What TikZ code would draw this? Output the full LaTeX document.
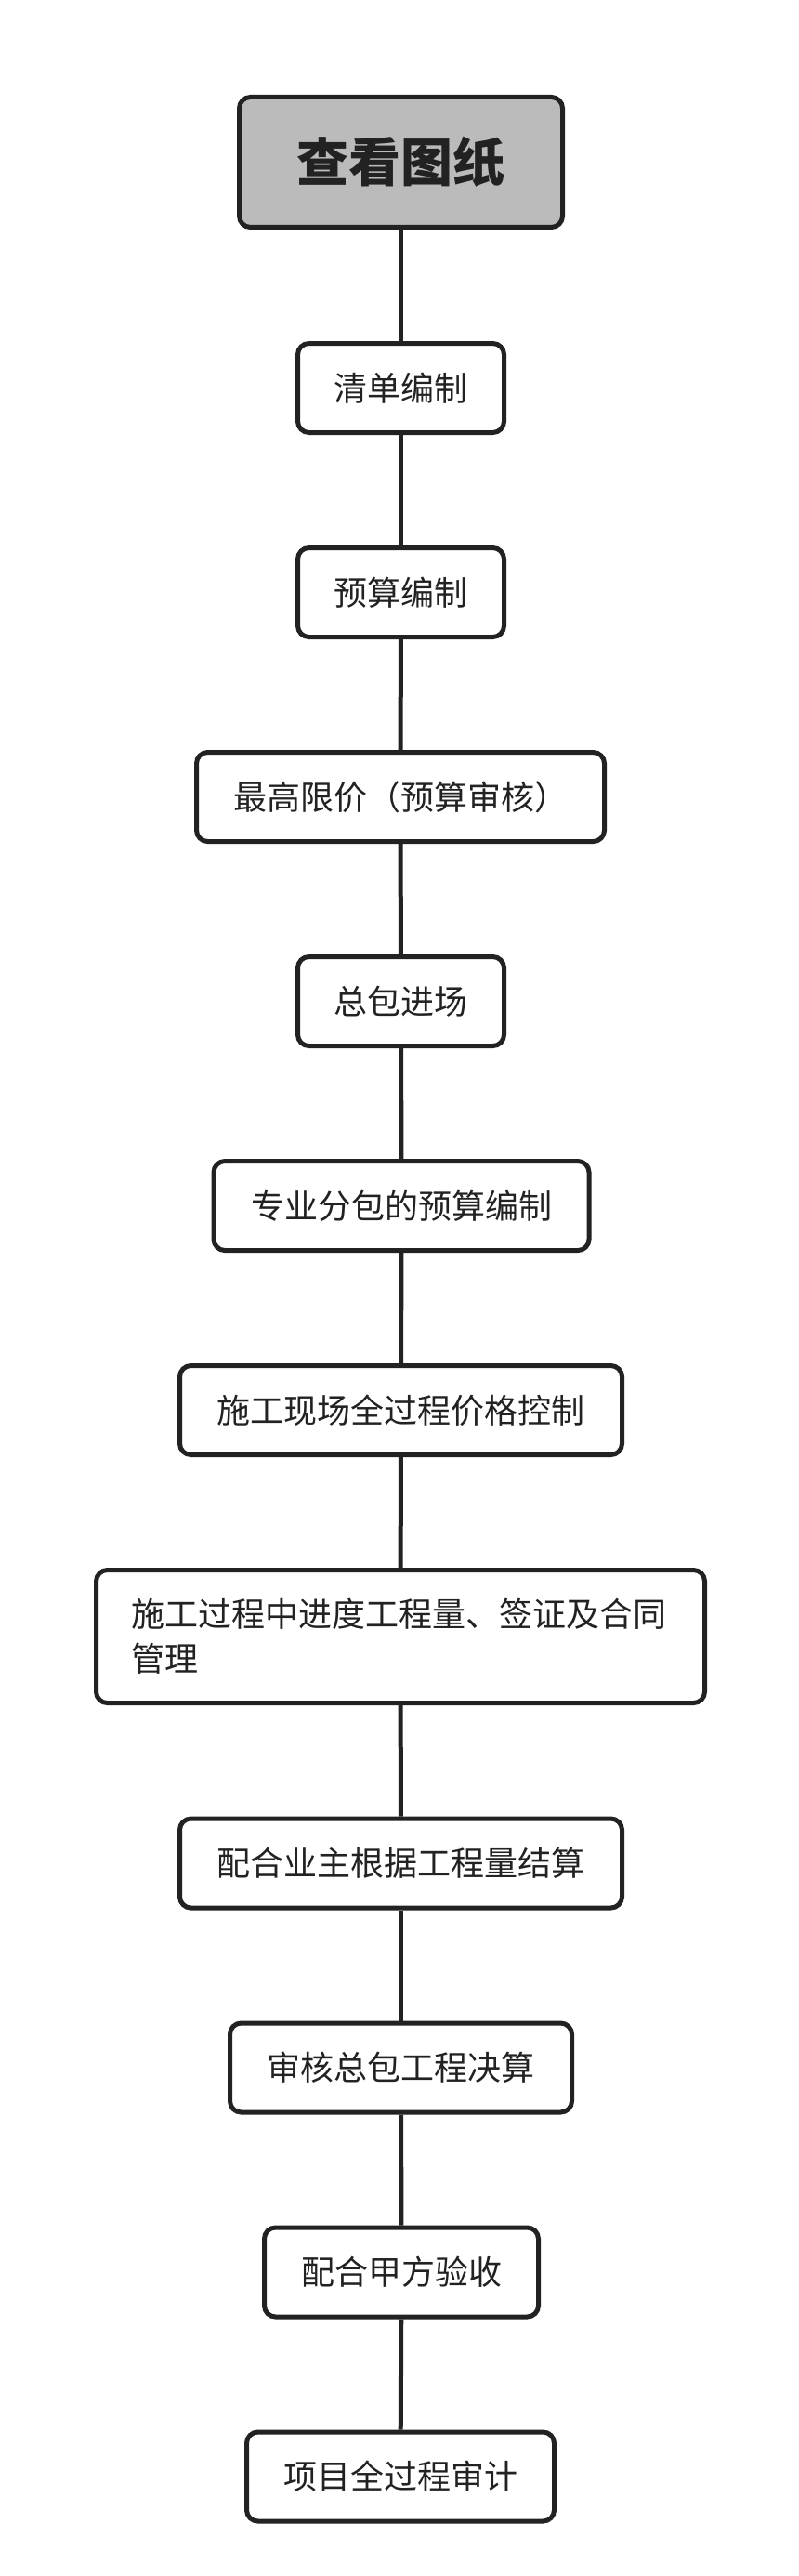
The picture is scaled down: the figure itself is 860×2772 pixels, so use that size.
\documentclass[tikz,border=0pt]{standalone}
\usepackage{fontspec}
\setmainfont{Noto Sans CJK SC}
\usepackage{tikz}
\usetikzlibrary{arrows.meta,positioning}
\usepackage{xcolor}
\definecolor{inkgray}{HTML}{222222}
\definecolor{headgray}{HTML}{BBBBBB}

\begin{document}
\begin{tikzpicture}[
  x=0.5pt,y=-0.5pt,
  stage/.style={draw=inkgray,line width=2.5pt,rectangle,rounded corners=6pt,
                minimum height=48pt,fill=white,text=inkgray,
                font=\fontsize{18pt}{24pt}\selectfont,align=center},
  head/.style={stage,fill=headgray,minimum width=174pt,minimum height=70pt,
               font=\fontsize{28pt}{34pt}\selectfont\bfseries},
  link/.style={draw=inkgray,line width=2.5pt}
]
\useasboundingbox (0,0) rectangle (860,2772);

% Start
\node[head] (s1) at (431.5,174.5) {查看图纸};

% Steps
\node[stage,minimum width=111pt] (s2) at (431.5,417.5) {清单编制};
\node[stage,minimum width=111pt] (s3) at (431.5,637.5) {预算编制};
\node[stage,minimum width=219.5pt] (s4) at (431,857.5) {最高限价（预算审核）};
\node[stage,minimum width=111pt] (s5) at (431.5,1077.5) {总包进场};
\node[stage,minimum width=202pt] (s6) at (432,1297.5) {专业分包的预算编制};
\node[stage,minimum width=238pt] (s7) at (431.5,1517.5) {施工现场全过程价格控制};
\node[stage,minimum height=71.5pt,text width=290pt,inner xsep=18.75pt,align=left]
  (s8) at (431,1761) {施工过程中进度工程量、签证及合同\\管理};
\node[stage,minimum width=238pt] (s9) at (431.5,2005) {配合业主根据工程量结算};
\node[stage,minimum width=184pt] (s10) at (431.5,2225) {审核总包工程决算};
\node[stage,minimum width=147.5pt] (s11) at (432,2445) {配合甲方验收};
\node[stage,minimum width=165.5pt] (s12) at (431,2665) {项目全过程审计};

% Connectors
\draw[link] (s1) -- (s2);
\draw[link] (s2) -- (s3);
\draw[link] (s3) -- (s4);
\draw[link] (s4) -- (s5);
\draw[link] (s5) -- (s6);
\draw[link] (s6) -- (s7);
\draw[link] (s7) -- (s8);
\draw[link] (s8) -- (s9);
\draw[link] (s9) -- (s10);
\draw[link] (s10) -- (s11);
\draw[link] (s11) -- (s12);

\end{tikzpicture}
\end{document}
